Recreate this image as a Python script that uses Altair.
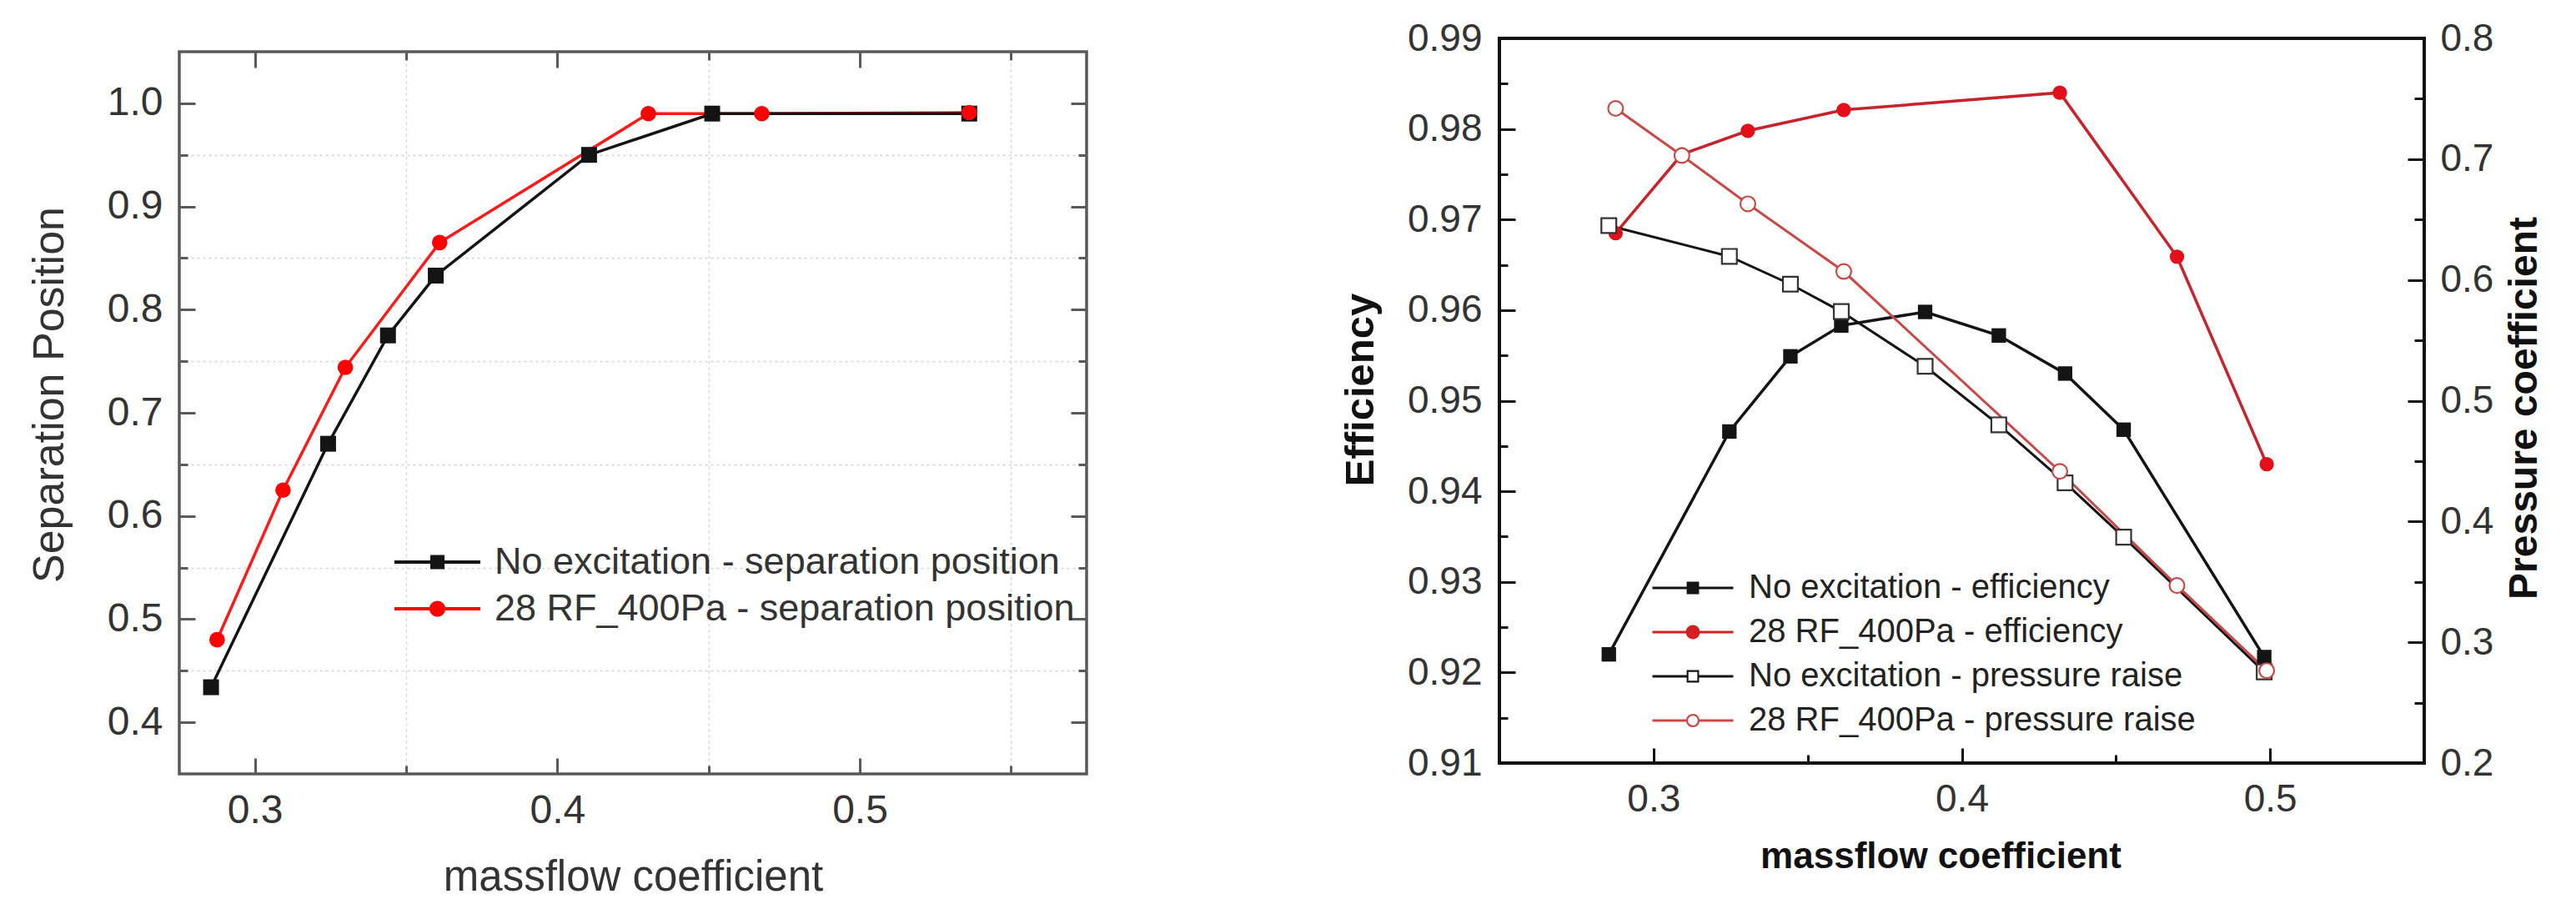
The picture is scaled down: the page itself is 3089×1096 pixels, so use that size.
import altair as alt
import pandas as pd

FONT = "Liberation Sans"
BLACK = "#141414"
RED_L = "#ff1a1a"

# ---------------- left panel: separation position ----------------
sep_noexc_x = [0.2855, 0.3242, 0.3440, 0.3598, 0.4105, 0.4512, 0.5362]
sep_noexc_y = [0.434, 0.670, 0.775, 0.833, 0.950, 0.990, 0.990]
sep_rf_x = [0.2875, 0.3093, 0.3299, 0.3611, 0.4301, 0.4676, 0.5362]
sep_rf_y = [0.480, 0.625, 0.744, 0.865, 0.990, 0.990, 0.991]
left_series = ["No excitation - separation position", "28 RF_400Pa - separation position"]
left_x_ticks = [0.30, 0.35, 0.40, 0.45, 0.50, 0.55]
left_y_ticks = [0.40, 0.45, 0.50, 0.55, 0.60, 0.65, 0.70, 0.75, 0.80, 0.85, 0.90, 0.95, 1.00]

# ---------------- right panel: efficiency / pressure ----------------
eff_noexc_x = [0.2855, 0.3246, 0.3444, 0.3609, 0.3881, 0.4120, 0.4335, 0.4525, 0.4981]
eff_noexc_y = [0.9220, 0.9466, 0.9549, 0.9583, 0.9598, 0.9572, 0.9530, 0.9468, 0.9217]
pr_noexc_y = [0.645, 0.6195, 0.5965, 0.5738, 0.5285, 0.480, 0.432, 0.387, 0.2755]
eff_rf_x = [0.2877, 0.3092, 0.3306, 0.3617, 0.4318, 0.4698, 0.4989]
eff_rf_y = [0.9685, 0.9772, 0.9798, 0.9821, 0.9840, 0.9659, 0.9430]
pr_rf_y = [0.742, 0.703, 0.663, 0.607, 0.4415, 0.347, 0.2765]
right_series = ["No excitation - efficiency", "28 RF_400Pa - efficiency",
                "No excitation - pressure raise", "28 RF_400Pa - pressure raise"]
right_x_ticks = [0.25, 0.30, 0.35, 0.40, 0.45, 0.50, 0.55]
eff_ticks = [round(0.91 + 0.005 * i, 3) for i in range(17)]
pr_ticks = [round(0.20 + 0.05 * i, 2) for i in range(13)]

MAJ10 = "abs(datum.value*10 - round(datum.value*10)) < 0.001"
MAJ100 = "abs(datum.value*100 - round(datum.value*100)) < 0.001"

TOP_L, TOP_R = 56, 44
LW, LH = 1088, 922 - TOP_L
RW, RH = 1109, 913 - TOP_R


def lbl_axis(orient, values, test, fmt, size, pad, color, **kw):
    kw.setdefault("grid", False)
    return alt.Axis(orient=orient, values=values,
                    labelExpr=f"({test}) ? format(datum.value, '{fmt}') : ''",
                    ticks=False, tickSize=0, domain=False, labelFont=FONT,
                    labelFontSize=size, labelColor=color, labelPadding=pad,
                    labelFlush=False, labelOverlap=False, titleFont=FONT, **kw)


def tick_axis(orient, offset, values, test, major, minor, color, width):
    return alt.Axis(orient=orient, offset=offset, values=values, labels=False,
                    domain=False, grid=False, title=None, ticks=True,
                    tickSize={"condition": {"test": test, "value": major}, "value": minor},
                    tickColor=color, tickWidth=width)


# ================= LEFT =================
lx = alt.Scale(domain=[0.275, 0.575], nice=False, zero=False)
ly = alt.Scale(domain=[0.35, 1.05], nice=False, zero=False)
df_l0 = pd.DataFrame({"m": sep_noexc_x, "v": sep_noexc_y})
df_l1 = pd.DataFrame({"m": sep_rf_x, "v": sep_rf_y})

grid_kw = dict(grid=True, gridOpacity={"condition": {"test": MAJ10, "value": 0}, "value": 1},
               gridColor="#d4d4d4", gridDash=[3, 4], gridWidth=1.5)
lx_lab = lbl_axis("bottom", left_x_ticks, MAJ10, ".1f", 48, 58, "#333",
                  labelBaseline="alphabetic", title="massflow coefficient",
                  titleFontSize=51, titleFontWeight="normal", titleColor="#333",
                  titleX=LW / 2, titleY=139, titleBaseline="alphabetic", titleAlign="center", **grid_kw)
ly_lab = lbl_axis("left", left_y_ticks, MAJ10, ".1f", 48, 20, "#333",
                  title="Separation Position", titleFontSize=52, titleFontWeight="normal",
                  titleColor="#333", titleX=-140, titleY=467 - TOP_L, titleAngle=270,
                  titleBaseline="alphabetic", titleAlign="center", **grid_kw)
TC_L = "#5a5a5a"

l_red_line = alt.Chart(df_l1).mark_line(color=RED_L, strokeWidth=3.5).encode(
    x=alt.X("m:Q", scale=lx, axis=lx_lab), y=alt.Y("v:Q", scale=ly, axis=ly_lab))
l_blk_line = alt.Chart(df_l0).mark_line(color=BLACK, strokeWidth=3.5).encode(
    x=alt.X("m:Q", scale=lx, axis=tick_axis("top", -LH, left_x_ticks, MAJ10, 19, 10, TC_L, 3)),
    y=alt.Y("v:Q", scale=ly, axis=tick_axis("right", -LW, left_y_ticks, MAJ10, 19, 10, TC_L, 3)))
l_blk_pts = alt.Chart(df_l0).mark_square(color=BLACK, size=361, opacity=1).encode(
    x=alt.X("m:Q", scale=lx, axis=tick_axis("bottom", -LH, left_x_ticks, MAJ10, 19, 10, TC_L, 3)),
    y=alt.Y("v:Q", scale=ly, axis=tick_axis("left", -LW, left_y_ticks, MAJ10, 19, 10, TC_L, 3)))
l_red_pts = alt.Chart(df_l1).mark_circle(color="#ff0000", size=346, opacity=1).encode(
    x=alt.X("m:Q", scale=lx, axis=None), y=alt.Y("v:Q", scale=ly, axis=None))

left_paths = [
    "M-3,-0.12H3V0.12H-3Z M-0.5,-0.5H0.5V0.5H-0.5Z",
    "M-3,-0.12H3V0.12H-3Z M-0.56,0A0.56,0.56 0 1,1 0.56,0A0.56,0.56 0 1,1 -0.56,0Z",
]
leg_left = alt.Legend(title=None, orient="none", legendX=287, legendY=684 - 22.5 - TOP_L,
                      labelFont=FONT, labelFontSize=45, labelColor="#333", labelOffset=46,
                      labelLimit=0, symbolSize=1179, symbolStrokeWidth=0, symbolOpacity=1,
                      rowPadding=10, padding=0)
df_leg_l = pd.DataFrame({"series": left_series, "m": [sep_noexc_x[0], sep_rf_x[0]],
                         "v": [sep_noexc_y[0], sep_rf_y[0]]})
l_legend = alt.Chart(df_leg_l).mark_point(filled=True, opacity=0).encode(
    x=alt.X("m:Q", scale=lx, axis=None), y=alt.Y("v:Q", scale=ly, axis=None),
    color=alt.Color("series:N", scale=alt.Scale(domain=left_series, range=[BLACK, "#ff0000"]), legend=leg_left),
    shape=alt.Shape("series:N", scale=alt.Scale(domain=left_series, range=left_paths), legend=leg_left))

left_plot = alt.layer(l_red_line, l_blk_line, l_blk_pts, l_red_pts, l_legend).resolve_scale(
    x="independent", y="independent").properties(
    width=LW, height=LH, view=alt.ViewBackground(stroke=TC_L, strokeWidth=3.5))

# empty strip that lowers the left frame below the right one
spacer = alt.Chart(pd.DataFrame({"a": [0]})).mark_point(opacity=0).encode(
    x=alt.value(0), y=alt.value(0)).properties(
    width=LW, height=TOP_L - TOP_R, view=alt.ViewBackground(strokeOpacity=0))
left = alt.vconcat(spacer, left_plot, spacing=0)

# ================= RIGHT =================
rx = alt.Scale(domain=[0.25, 0.55], nice=False, zero=False)
ey = alt.Scale(domain=[0.91, 0.99], nice=False, zero=False)
py = alt.Scale(domain=[0.2, 0.8], nice=False, zero=False)
df_e0 = pd.DataFrame({"m": eff_noexc_x, "v": eff_noexc_y})
df_e1 = pd.DataFrame({"m": eff_rf_x, "v": eff_rf_y})
df_p0 = pd.DataFrame({"m": eff_noexc_x, "v": pr_noexc_y})
df_p1 = pd.DataFrame({"m": eff_rf_x, "v": pr_rf_y})
TC_R = "#111"
RED_E = "#c8232c"
RED_P = "#c94848"

rx_lab = lbl_axis("bottom", right_x_ticks, MAJ10, ".1f", 46, 57, "#333",
                  labelBaseline="alphabetic", title="massflow coefficient",
                  titleFontSize=44, titleFontWeight="bold", titleColor="#111",
                  titleX=529, titleY=125, titleBaseline="alphabetic", titleAlign="center")
ey_lab = lbl_axis("left", eff_ticks, MAJ100, ".2f", 46, 21, "#333",
                  title="Efficiency", titleFontSize=49, titleFontWeight="bold", titleColor="#111",
                  titleX=-152, titleY=465 - TOP_R, titleAngle=270, titleBaseline="alphabetic",
                  titleAlign="center")
py_lab = lbl_axis("right", pr_ticks, MAJ10, ".1f", 46, 19, "#333",
                  title="Pressure coefficient", titleFontSize=48, titleFontWeight="bold",
                  titleColor="#111", titleX=134, titleY=487 - TOP_R, titleAngle=270,
                  titleBaseline="alphabetic", titleAlign="center")

r_e0_line = alt.Chart(df_e0).mark_line(color=BLACK, strokeWidth=3.5).encode(
    x=alt.X("m:Q", scale=rx, axis=rx_lab), y=alt.Y("v:Q", scale=ey, axis=ey_lab))
r_e1_line = alt.Chart(df_e1).mark_line(color=RED_E, strokeWidth=3.5).encode(
    x=alt.X("m:Q", scale=rx, axis=tick_axis("top", -RH, right_x_ticks, MAJ10, 18, 10, TC_R, 3)),
    y=alt.Y("v:Q", scale=ey, axis=tick_axis("right", -RW, eff_ticks, MAJ100, 19, 10, TC_R, 3)))
r_p0_line = alt.Chart(df_p0).mark_line(color=BLACK, strokeWidth=3).encode(
    x=alt.X("m:Q", scale=rx, axis=None), y=alt.Y("v:Q", scale=py, axis=py_lab))
r_p1_line = alt.Chart(df_p1).mark_line(color=RED_P, strokeWidth=3).encode(
    x=alt.X("m:Q", scale=rx, axis=None),
    y=alt.Y("v:Q", scale=py, axis=tick_axis("left", -RW, pr_ticks, MAJ10, 20, 12, TC_R, 3)))
r_e1_pts = alt.Chart(df_e1).mark_circle(color="#e3101a", size=300, opacity=1).encode(
    x=alt.X("m:Q", scale=rx, axis=None), y=alt.Y("v:Q", scale=ey, axis=None))
r_e0_pts = alt.Chart(df_e0).mark_square(color=BLACK, size=300, opacity=1).encode(
    x=alt.X("m:Q", scale=rx, axis=None), y=alt.Y("v:Q", scale=ey, axis=None))
r_p0_pts = alt.Chart(df_p0).mark_square(fill="white", stroke="#333", strokeWidth=2.2,
                                        size=320, opacity=1, fillOpacity=1).encode(
    x=alt.X("m:Q", scale=rx, axis=None), y=alt.Y("v:Q", scale=py, axis=None))
r_p1_pts = alt.Chart(df_p1).mark_circle(fill="white", stroke=RED_P, strokeWidth=2.2,
                                        size=320, opacity=1, fillOpacity=1).encode(
    x=alt.X("m:Q", scale=rx, axis=None), y=alt.Y("v:Q", scale=py, axis=None))

right_paths = [
    "M-3,-0.1H3V0.1H-3Z M-0.46,-0.46H0.46V0.46H-0.46Z",
    "M-3,-0.1H3V0.1H-3Z M-0.52,0A0.52,0.52 0 1,1 0.52,0A0.52,0.52 0 1,1 -0.52,0Z",
    "M-3,-0.1H-0.46V0.1H-3Z M0.46,-0.1H3V0.1H0.46Z M-0.46,-0.46H0.46V0.46H-0.46Z M-0.33,-0.33V0.33H0.33V-0.33Z",
    "M-3,-0.1H-0.5V0.1H-3Z M0.5,-0.1H3V0.1H0.5Z M-0.5,0A0.5,0.5 0 1,1 0.5,0A0.5,0.5 0 1,1 -0.5,0Z M-0.36,0A0.36,0.36 0 1,0 0.36,0A0.36,0.36 0 1,0 -0.36,0Z",
]
leg_right = alt.Legend(title=None, orient="none", legendX=212, legendY=703 - 20 - TOP_R,
                       labelFont=FONT, labelFontSize=40, labelColor="#222", labelOffset=47,
                       labelLimit=0, symbolSize=1045, symbolStrokeWidth=0, symbolOpacity=1,
                       rowPadding=13, padding=0)
df_leg_r = pd.DataFrame({"series": right_series,
                         "m": [eff_noexc_x[0], eff_rf_x[0], eff_noexc_x[0], eff_rf_x[0]],
                         "v": [eff_noexc_y[0], eff_rf_y[0], eff_noexc_y[0], eff_rf_y[0]]})
r_legend = alt.Chart(df_leg_r).mark_point(filled=True, opacity=0).encode(
    x=alt.X("m:Q", scale=rx, axis=None), y=alt.Y("v:Q", scale=ey, axis=None),
    color=alt.Color("series:N", scale=alt.Scale(domain=right_series,
                                                range=[BLACK, "#d42020", BLACK, RED_P]), legend=leg_right),
    shape=alt.Shape("series:N", scale=alt.Scale(domain=right_series, range=right_paths), legend=leg_right))

right = alt.layer(r_e0_line, r_e1_line, r_p0_line, r_p1_line,
                  r_e1_pts, r_e0_pts, r_p0_pts, r_p1_pts, r_legend).resolve_scale(
    x="independent", y="independent").properties(
    width=RW, height=RH, view=alt.ViewBackground(stroke=TC_R, strokeWidth=4))

chart = alt.hconcat(left, right, spacing=298).resolve_scale(
    color="independent", shape="independent").properties(
    padding={"left": 23, "top": 13, "right": 10, "bottom": 10},
    background="white").configure(font=FONT)

chart.save("out.html", embed_options={"renderer": "svg", "actions": False})
